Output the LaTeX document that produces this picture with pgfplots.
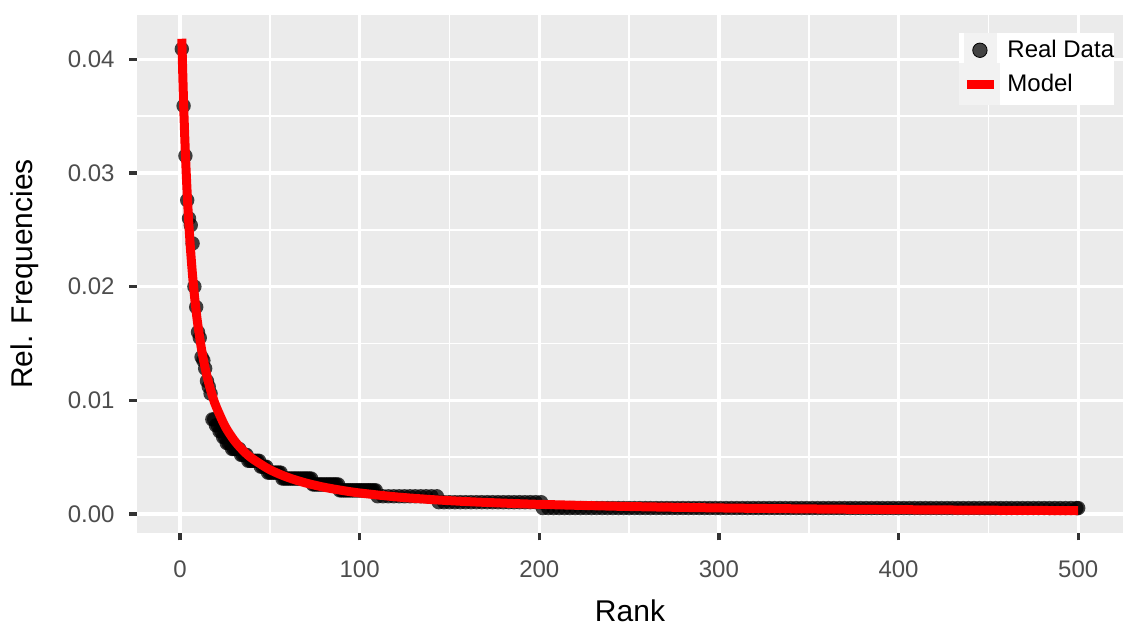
\documentclass[border=0pt]{standalone}
\usepackage{fontspec}
\setmainfont{Liberation Sans}
\usepackage{pgfplots}
\pgfplotsset{compat=1.18}

\definecolor{panelgrey}{HTML}{EBEBEB}
\definecolor{keygrey}{HTML}{F2F2F2}
\definecolor{tickgrey}{HTML}{333333}
\definecolor{labgrey}{HTML}{4D4D4D}

\begin{document}
\begin{tikzpicture}
\path[use as bounding box] (-68.5pt,-49pt) rectangle (497.5pt,266.5pt);
\begin{axis}[
    at={(0,0)}, anchor=south west,
    scale only axis, width=493pt, height=259pt,
    xmin=-23.95, xmax=524.95, ymin=-0.00167, ymax=0.04389,
    axis background/.style={fill=panelgrey},
    axis line style={draw=none},
    xtick={0,100,200,300,400,500},
    xticklabels={0,100,200,300,400,500},
    minor xtick={50,150,250,350,450},
    ytick={0,0.01,0.02,0.03,0.04},
    yticklabels={0.00,0.01,0.02,0.03,0.04},
    minor ytick={0.005,0.015,0.025,0.035},
    scaled y ticks=false,
    grid=both,
    major grid style={white, line width=1.6pt},
    minor grid style={white, line width=0.8pt},
    tick align=outside, tick pos=left,
    major tick length=3.75pt, minor tick length=0pt,
    tick style={color=tickgrey, line width=1.6pt},
    ticklabel style={font=\fontsize{12}{14}\selectfont, text=labgrey},
    xticklabel style={inner sep=0pt, anchor=north, yshift=-9.75pt},
    yticklabel style={inner sep=0pt, anchor=east, xshift=-7.25pt},
    xlabel={Rank}, ylabel={Rel. Frequencies},
    label style={font=\fontsize{15}{18}\selectfont},
    xlabel style={at={(axis description cs:0.5,-0.1718)}, anchor=base},
    ylabel style={at={(axis description cs:-0.1136,0.5)}, anchor=center},
    legend style={at={(0.8337,0.9653)}, anchor=north west, fill=white, draw=none,
        inner sep=0pt, row sep=-2pt, font=\fontsize{12}{14}\selectfont,
        nodes={inner sep=0pt},
        cells={anchor=west},
        /tikz/every odd column/.append style={column sep=3.5pt}},
    clip=true, clip marker paths=true,
]
% real data
\addplot[only marks, mark=*, mark size=3.6pt,
    mark options={draw=black, fill=black, line width=0pt, draw opacity=0, fill opacity=0.74},
    legend image code/.code={
        \fill[keygrey] (0pt,-8.25pt) rectangle (16pt,8.25pt);
        \fill[black, fill opacity=0.72] (8pt,0pt) circle (3.6pt);
    }] coordinates {
(1,0.0409)(2,0.0359)(3,0.0315)(4,0.0276)(5,0.0260)(6,0.0254)(7,0.0238)(8,0.0200)(9,0.0182)(10,0.0160)
(11,0.0155)(12,0.0138)(13,0.0135)(14,0.0128)(15,0.0117)(16,0.0112)(17,0.0106)
(18,0.00832)(19,0.00832)(20,0.0078)(21,0.0078)(22,0.00728)(23,0.00728)(24,0.00676)(25,0.00676)
(26,0.00624)(27,0.00624)(28,0.00624)(29,0.00572)(30,0.00572)(31,0.00572)(32,0.00572)(33,0.00572)
(34,0.0052)(35,0.0052)(36,0.0052)(37,0.0052)
(38,0.00468)(39,0.00468)(40,0.00468)(41,0.00468)(42,0.00468)(43,0.00468)(44,0.00468)
(45,0.00416)(46,0.00416)(47,0.00416)(48,0.00416)
(49,0.00364)(50,0.00364)(51,0.00364)(52,0.00364)(53,0.00364)(54,0.00364)(55,0.00364)(56,0.00364)
(57,0.00312)(58,0.00312)(59,0.00312)(60,0.00312)(61,0.00312)(62,0.00312)(63,0.00312)(64,0.00312)(65,0.00312)
(66,0.00312)(67,0.00312)(68,0.00312)(69,0.00312)(70,0.00312)(71,0.00312)(72,0.00312)(73,0.00312)
(74,0.0026)(75,0.0026)(76,0.0026)(77,0.0026)(78,0.0026)(79,0.0026)(80,0.0026)(81,0.0026)
(82,0.0026)(83,0.0026)(84,0.0026)(85,0.0026)(86,0.0026)(87,0.0026)(88,0.0026)
(89,0.00208)(90,0.00208)(91,0.00208)(92,0.00208)(93,0.00208)(94,0.00208)(95,0.00208)(96,0.00208)
(97,0.00208)(98,0.00208)(99,0.00208)(100,0.00208)(101,0.00208)(102,0.00208)(103,0.00208)(104,0.00208)
(105,0.00208)(106,0.00208)(107,0.00208)(108,0.00208)(109,0.00208)
(110,0.00156)(113,0.00156)(116,0.00156)(119,0.00156)(122,0.00156)(125,0.00156)
(128,0.00156)(131,0.00156)(134,0.00156)(137,0.00156)(140,0.00156)(143,0.00156)
(144,0.00104)(147,0.00104)(150,0.00104)(153,0.00104)(156,0.00104)(159,0.00104)(162,0.00104)
(165,0.00104)(168,0.00104)(171,0.00104)(174,0.00104)(177,0.00104)(180,0.00104)(183,0.00104)
(186,0.00104)(189,0.00104)(192,0.00104)(195,0.00104)(198,0.00104)(201,0.00104)
(202,0.00052)(205,0.00052)(208,0.00052)(211,0.00052)(214,0.00052)(217,0.00052)(220,0.00052)
(223,0.00052)(226,0.00052)(229,0.00052)(232,0.00052)(235,0.00052)(238,0.00052)(241,0.00052)
(244,0.00052)(247,0.00052)(250,0.00052)(253,0.00052)(256,0.00052)(259,0.00052)(262,0.00052)
(265,0.00052)(268,0.00052)(271,0.00052)(274,0.00052)(277,0.00052)(280,0.00052)(283,0.00052)
(286,0.00052)(289,0.00052)(292,0.00052)(295,0.00052)(298,0.00052)(301,0.00052)(304,0.00052)
(307,0.00052)(310,0.00052)(313,0.00052)(316,0.00052)(319,0.00052)(322,0.00052)(325,0.00052)
(328,0.00052)(331,0.00052)(334,0.00052)(337,0.00052)(340,0.00052)(343,0.00052)(346,0.00052)
(349,0.00052)(352,0.00052)(355,0.00052)(358,0.00052)(361,0.00052)(364,0.00052)(367,0.00052)
(370,0.00052)(373,0.00052)(376,0.00052)(379,0.00052)(382,0.00052)(385,0.00052)(388,0.00052)
(391,0.00052)(394,0.00052)(397,0.00052)(400,0.00052)(403,0.00052)(406,0.00052)(409,0.00052)
(412,0.00052)(415,0.00052)(418,0.00052)(421,0.00052)(424,0.00052)(427,0.00052)(430,0.00052)
(433,0.00052)(436,0.00052)(439,0.00052)(442,0.00052)(445,0.00052)(448,0.00052)(451,0.00052)
(454,0.00052)(457,0.00052)(460,0.00052)(463,0.00052)(466,0.00052)(469,0.00052)(472,0.00052)
(475,0.00052)(478,0.00052)(481,0.00052)(484,0.00052)(487,0.00052)(490,0.00052)(493,0.00052)
(496,0.00052)(499,0.00052)(500,0.00052)
};
\addlegendentry{Real Data}
% fitted model
\addplot[red, line width=4.5pt, smooth, no marks,
    legend image code/.code={
        \fill[keygrey] (0pt,-8.25pt) rectangle (16pt,8.25pt);
        \draw[red, line width=4.5pt] (1.5pt,0pt) -- (15pt,0pt);
    }] coordinates {
(1,0.04180)(2,0.03608)(3,0.03166)(4,0.02815)(5,0.02530)(6,0.02293)(7,0.02095)(8,0.01927)
(9,0.01781)(10,0.01655)(12,0.01447)(14,0.01282)(16,0.01150)(18,0.01040)(20,0.00949)
(25,0.00774)(30,0.00651)(35,0.00560)(40,0.00490)(50,0.00390)(60,0.00322)(70,0.00273)
(80,0.00236)(90,0.00208)(100,0.00185)(120,0.00151)(140,0.00127)(160,0.00109)(180,0.000958)
(200,0.000850)(250,0.000659)(300,0.000534)(350,0.000447)(400,0.000383)(450,0.000335)(500,0.000296)
};
\addlegendentry{Model}
\end{axis}
\end{tikzpicture}
\end{document}
